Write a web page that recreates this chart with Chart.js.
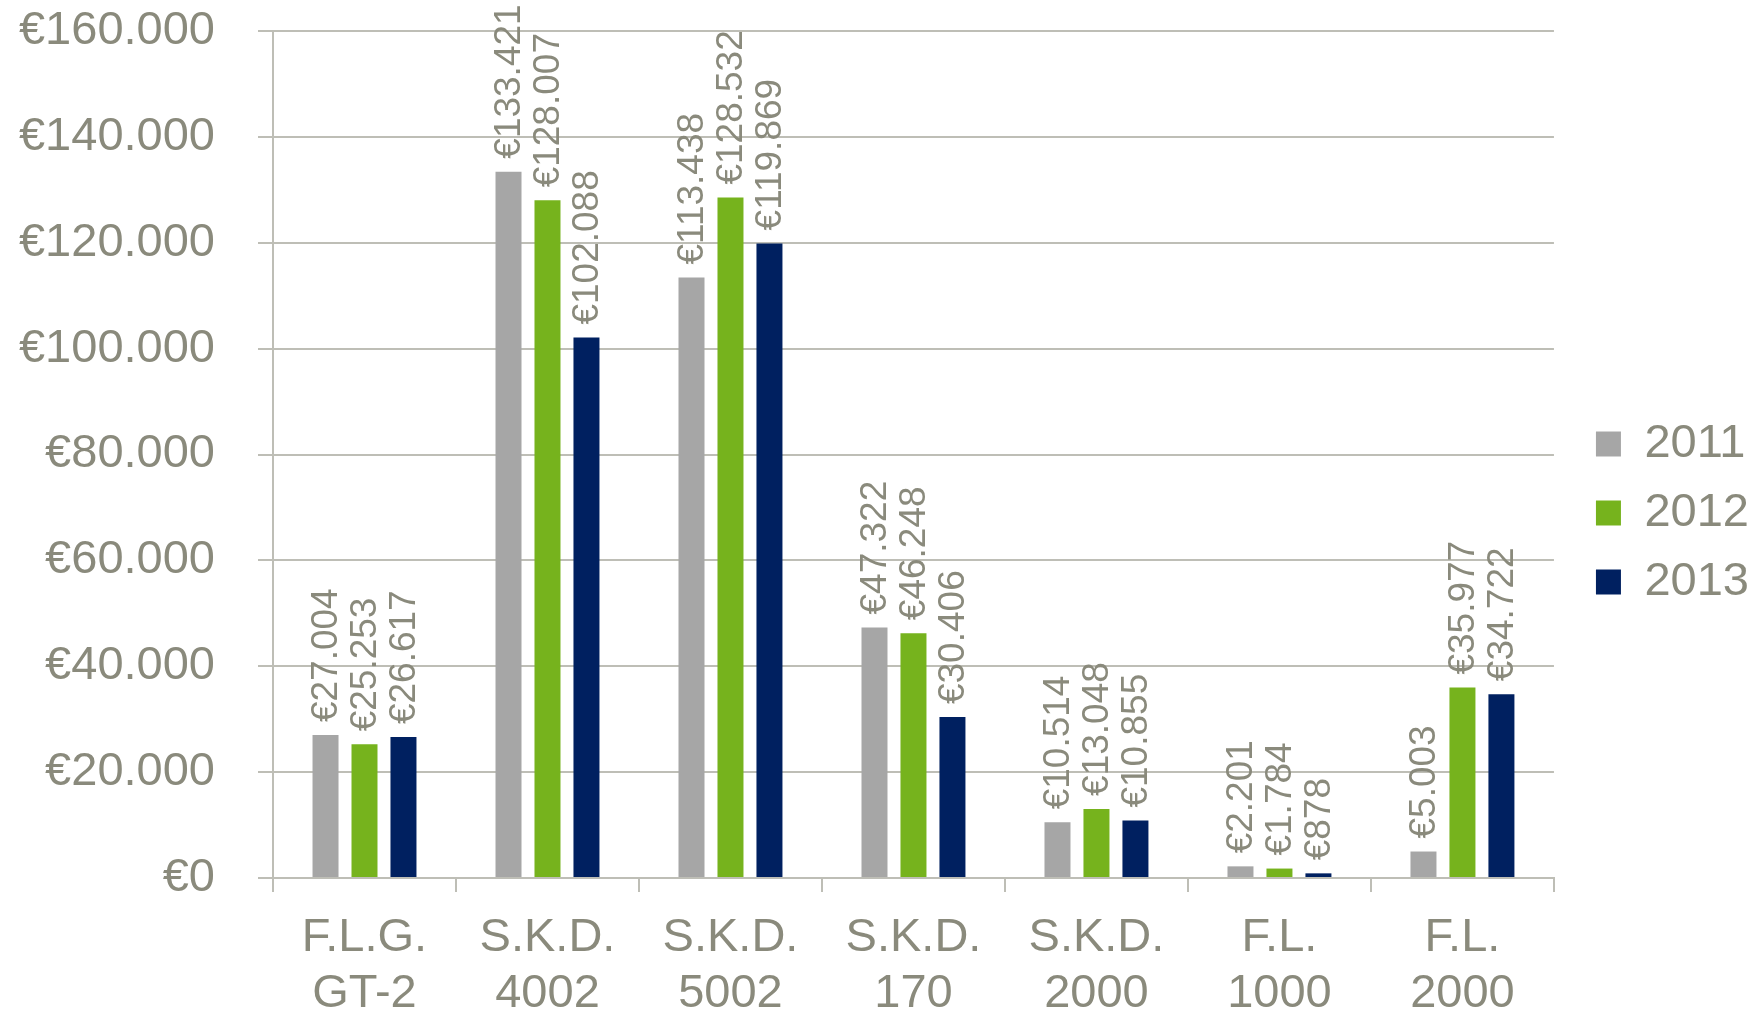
<!DOCTYPE html>
<html>
<head>
<meta charset="utf-8">
<script src="https://cdn.jsdelivr.net/npm/chart.js@4/dist/chart.umd.min.js"></script>
<style>
  html, body { margin: 0; padding: 0; background: #fff; }
  #wrap { width: 1760px; height: 1012px; }
</style>
</head>
<body>
<div id="wrap"><canvas id="myChart"></canvas></div>
<script>
const categories = [['F.L.G.', 'GT-2'], ['S.K.D.', '4002'], ['S.K.D.', '5002'], ['S.K.D.', '170'], ['S.K.D.', '2000'], ['F.L.', '1000'], ['F.L.', '2000']];
const years = ['2011', '2012', '2013'];
const values2011 = [27004, 133421, 113438, 47322, 10514, 2201, 5003];
const values2012 = [25253, 128007, 128532, 46248, 13048, 1784, 35977];
const values2013 = [26617, 102088, 119869, 30406, 10855, 878, 34722];

const textColor = '#8a8a7c';
const gridColor = '#bebeb6';
const fontFamily = '"Liberation Sans", Arial, sans-serif';

// euro with dot as thousands separator
function euro(v) {
    return '€' + String(Math.round(v)).replace(/\B(?=(\d{3})+(?!\d))/g, '.');
}

// rotated value labels above each bar
const barLabels = {
    id: 'barLabels',
    afterDatasetsDraw(chart) {
        const ctx = chart.ctx;
        ctx.save();
        ctx.fillStyle = textColor;
        ctx.font = '37px ' + fontFamily;
        ctx.textAlign = 'left';
        ctx.textBaseline = 'middle';
        chart.data.datasets.forEach((ds, i) => {
            chart.getDatasetMeta(i).data.forEach((bar, j) => {
                ctx.save();
                ctx.translate(bar.x + 1, bar.y - 13);
                ctx.rotate(-Math.PI / 2);
                ctx.fillText(euro(ds.data[j]), 0, 0);
                ctx.restore();
            });
        });
        ctx.restore();
    }
};

// push the legend back to the right edge (layout padding moved it in)
const legendShift = {
    id: 'legendShift',
    afterLayout(chart) {
        chart.legend.left += 20;
        chart.legend.right += 20;
    }
};

new Chart(document.getElementById('myChart'), {
    type: 'bar',
    data: {
        labels: categories,
        datasets: [
            { label: years[0], data: values2011, backgroundColor: '#a6a6a6' },
            { label: years[1], data: values2012, backgroundColor: '#76b31d' },
            { label: years[2], data: values2013, backgroundColor: '#002060' }
        ]
    },
    options: {
        responsive: true,
        maintainAspectRatio: false,
        animation: false,
        categoryPercentage: 0.639,
        barPercentage: 0.667,
        layout: { padding: { left: 0, top: 14, right: 21, bottom: 0 } },
        plugins: {
            tooltip: { enabled: false },
            legend: {
                position: 'right',
                labels: {
                    color: textColor,
                    font: { family: fontFamily, size: 47 },
                    boxWidth: 25,
                    boxHeight: 25,
                    padding: 22
                }
            }
        },
        scales: {
            x: {
                grid: { display: true, drawOnChartArea: false, drawTicks: true, tickLength: 14, color: gridColor, lineWidth: 2 },
                border: { color: gridColor, width: 2 },
                ticks: {
                    color: textColor,
                    font: { family: fontFamily, size: 47, lineHeight: 1.19 },
                    padding: 18,
                    maxRotation: 0,
                    autoSkip: false
                },
                afterFit(scale) {
                    scale.height = 134;
                }
            },
            y: {
                min: 0,
                max: 160000,
                grid: { color: gridColor, lineWidth: 2, tickLength: 15 },
                border: { color: gridColor, width: 2 },
                ticks: {
                    stepSize: 20000,
                    color: textColor,
                    font: { family: fontFamily, size: 47 },
                    padding: 43,
                    callback: (v) => euro(v)
                },
                afterFit(scale) {
                    scale.width = 273;
                    scale.paddingTop = 31;
                    scale.paddingBottom = 17;
                }
            }
        }
    },
    plugins: [barLabels, legendShift]
});
</script>
</body>
</html>
